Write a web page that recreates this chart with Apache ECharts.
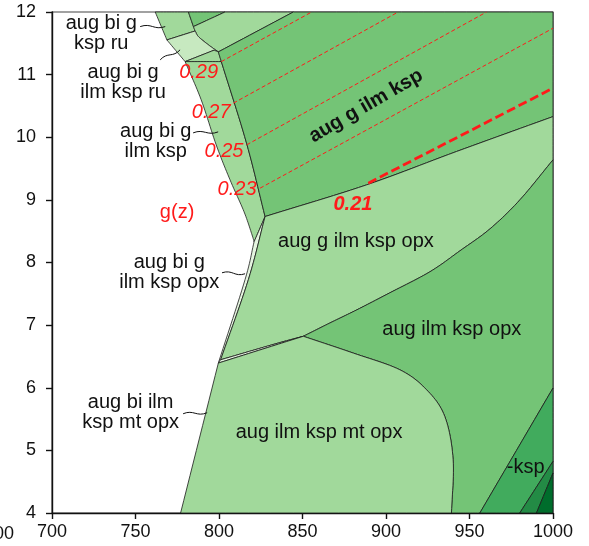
<!DOCTYPE html>
<html>
<head>
<meta charset="utf-8">
<script src="https://cdn.jsdelivr.net/npm/echarts@6/dist/echarts.min.js"></script>
<style>
html,body{margin:0;padding:0;background:#fff}
#chart{width:589px;height:546px}
</style>
</head>
<body>
<div id="chart"></div>
<script>
// Axis ranges: temperature (°C) on x, pressure (kbar) on y
const tempRange = [700, 1000];
const pressRange = [4, 12];

// Stability-field outlines as [T, P] vertices
const fieldBiGKspRu = [[761.8,12],[781.7,12],[784.7,11.767],[785.7,11.697],[768.8,11.554]];
const fieldTopTriangle = [[781.7,12],[803.6,12],[784.7,11.767]];
const fieldTopStrip = [[784.7,11.767],[803.6,12],[844.5,12],[799.6,11.363],[793.7,11.475],[787.7,11.607],[785.7,11.697]];
const fieldBiGIlmKspRu = [[768.8,11.554],[785.7,11.697],[787.7,11.607],[793.7,11.475],[799.6,11.363],[797,11.39],[779.7,11.208]];
const fieldSmallWedge = [[779.7,11.208],[797,11.39],[799.6,11.363],[801.4,11.208]];
const fieldBiGIlmKsp = [[779.7,11.208],[801.4,11.208],[816.5,9.906],[827.6,8.734],[821,8.33],[819.8,8.44],[815,8.81],[806.6,9.32],[798.3,9.88],[789.3,10.60]];
const fieldGIlmKsp = [[799.6,11.363],[844.5,12],[1000,12],[1000,10.33],[942.2,9.772],[888.4,9.240],[827.6,8.734],[816.5,9.906],[801.4,11.208]];
const fieldBiGIlmKspOpx = [[821,8.33],[827.6,8.734],[817.6,7.727],[801,6.447],[799.6,6.394],[815.6,7.727]];
const fieldGIlmKspOpx = [[827.6,8.734],[888.4,9.240],[942.2,9.772],[1000,10.33],[1000,9.639],[980.2,9.001],[962.3,8.538],[944.3,8.187],[926.3,7.852],[902.3,7.516],[882.6,7.245],[866.4,7.034],[850.5,6.822],[833.6,6.70],[801,6.447],[817.6,7.727]];
const fieldNarrowBand = [[799.6,6.394],[801,6.447],[833.6,6.70],[850.5,6.822],[833.6,6.68]];
const fieldIlmKspOpx = [[850.5,6.822],[866.4,7.034],[882.6,7.245],[902.3,7.516],[926.3,7.852],[944.3,8.187],[962.3,8.538],[980.2,9.001],[1000,9.639],[1000,5.995],[956.2,4],[939.2,4],[940.2,4.851],[935.2,5.542],[924.3,5.968],[908.3,6.287],[880.4,6.554]];
const fieldIlmKspMtOpx = [[777,4],[799.6,6.394],[833.6,6.68],[850.5,6.822],[880.4,6.554],[908.3,6.287],[924.3,5.968],[935.2,5.542],[940.2,4.851],[939.2,4]];
const fieldNoKsp = [[956.2,4],[1000,5.995],[1000,4.824],[980.1,4]];
const fieldNoKsp2 = [[980.1,4],[1000,4.824],[1000,4.638],[990.1,4]];
const fieldNoKsp3 = [[990.1,4],[1000,4.638],[1000,4]];

// Points where field boundaries meet (drawn as sharp corners)
const junctions = [[799.6,6.394],[801,6.447],[850.5,6.822],[821,8.33],[827.6,8.734],
  [779.7,11.208],[768.8,11.554],[785.7,11.697],[784.7,11.767],[799.6,11.363],
  [801.4,11.208],[797,11.39]];

// Garnet composition isopleths g(z)
const iso029 = [[801.4,11.208],[855.5,12]];
const iso027 = [[808.6,10.544],[907.3,12]];
const iso025 = [[816.6,9.879],[960.2,12]];
const iso023 = [[824.6,9.187],[1000,11.741]];
const iso021 = [[889.4,9.267],[1000,10.784]];

// Field names and isopleth values, anchored at [T, P]
const fieldLabels = [
  [729.5,11.658,'aug bi g\nksp ru'],
  [742.6,10.876,'aug bi g\nilm ksp ru'],
  [762.1,9.927,'aug bi g\nilm ksp'],
  [770.2,7.836,'aug bi g\nilm ksp opx'],
  [747.1,5.601,'aug bi ilm\nksp mt opx'],
  [882.0,8.33,'aug g ilm ksp opx'],
  [939.4,6.926,'aug ilm ksp opx'],
  [859.9,5.282,'aug ilm ksp mt opx'],
  [983.6,4.723,'-ksp']
];
const mainLabel = [888.0,10.5,'aug g ilm ksp'];
const isoLabels = [
  [787.8,11.028,'0.29'],
  [795.3,10.39,'0.27'],
  [803.0,9.767,'0.25'],
  [810.8,9.16,'0.23']
];
const isoLabelBold = [880.2,8.921,'0.21'];
const isoTitle = [774.9,8.793,'g(z)'];

// Leader squiggles from label to small field: [T0, P0, T1, P1]
const leaders = [
  [752.8,11.767,767.8,11.767],
  [764.8,11.236,776.7,11.396],
  [784.5,10.07,799.5,10.086],
  [801.8,7.836,815.6,7.82],
  [778.5,5.585,792.9,5.601]
];

const C1 = '#e5f5e0', C2 = '#c7e9c0', C3 = '#a1d99b', C4 = '#74c476', C5 = '#41ab5d', C6 = '#238b45', C7 = '#006d2c';
const fields = [
  [fieldBiGKspRu, C3], [fieldTopTriangle, C4], [fieldTopStrip, C3],
  [fieldBiGIlmKspRu, C2], [fieldSmallWedge, C3], [fieldBiGIlmKsp, C3],
  [fieldGIlmKsp, C4], [fieldBiGIlmKspOpx, C1], [fieldGIlmKspOpx, C3],
  [fieldNarrowBand, C1], [fieldIlmKspOpx, C4], [fieldIlmKspMtOpx, C3],
  [fieldNoKsp, C5], [fieldNoKsp2, C6], [fieldNoKsp3, C7]
];

function isCorner(p) {
  if (p[0] <= tempRange[0] || p[0] >= tempRange[1] || p[1] <= pressRange[0] || p[1] >= pressRange[1]) return true;
  return junctions.some(j => Math.abs(j[0] - p[0]) < 1e-6 && Math.abs(j[1] - p[1]) < 1e-6);
}

// Closed outline through the vertices: boundary curves pass smoothly
// through interior vertices (Catmull-Rom), corners stay sharp.
function outline(verts, api) {
  const n = verts.length;
  const px = verts.map(v => api.coord(v));
  const corner = verts.map(isCorner);
  const tan = px.map((p, i) => {
    if (corner[i]) return null;
    const a = px[(i - 1 + n) % n], b = px[(i + 1) % n];
    return [(b[0] - a[0]) / 2, (b[1] - a[1]) / 2];
  });
  const out = [];
  for (let i = 0; i < n; i++) {
    const p1 = px[i], p2 = px[(i + 1) % n];
    const chord = [p2[0] - p1[0], p2[1] - p1[1]];
    const t1 = tan[i] || chord;
    const t2 = tan[(i + 1) % n] || chord;
    const c1 = [p1[0] + t1[0] / 3, p1[1] + t1[1] / 3];
    const c2 = [p2[0] - t2[0] / 3, p2[1] - t2[1] / 3];
    const steps = 12;
    for (let s = 0; s < steps; s++) {
      const t = s / steps, u = 1 - t;
      out.push([
        u*u*u*p1[0] + 3*u*u*t*c1[0] + 3*u*t*t*c2[0] + t*t*t*p2[0],
        u*u*u*p1[1] + 3*u*u*t*c1[1] + 3*u*t*t*c2[1] + t*t*t*p2[1]
      ]);
    }
  }
  return out;
}

const FONT = '"Liberation Sans", Arial, sans-serif';
const RED = '#ff1a1a';
const chart = echarts.init(document.getElementById('chart'), null, {renderer: 'canvas'});

function textItem(entry, style) {
  return {
    type: 'custom',
    coordinateSystem: 'cartesian2d',
    silent: true,
    z: 5,
    data: entry.map(e => [e[0], e[1]]),
    renderItem: function (params, api) {
      const e = entry[params.dataIndex];
      const p = api.coord([e[0], e[1]]);
      return {
        type: 'text',
        x: p[0], y: p[1],
        rotation: style.rotation || 0,
        style: {
          text: e[2],
          fill: style.fill || '#111',
          font: style.font,
          align: 'center',
          verticalAlign: 'middle',
          lineHeight: 20
        }
      };
    }
  };
}

function isoLine(data, width, dash) {
  return {
    type: 'line', data: data, symbol: 'none', silent: true, z: 4,
    lineStyle: {color: RED, width: width, type: dash}
  };
}

const option = {
  animation: false,
  backgroundColor: '#fff',
  grid: {left: 52, right: 36, top: 12, bottom: 33, show: true, borderColor: '#444', borderWidth: 1.2, backgroundColor: 'transparent'},
  xAxis: {
    type: 'value', min: tempRange[0], max: tempRange[1], interval: 50,
    axisLine: {show: true, onZero: false, lineStyle: {color: '#111', width: 1.4}},
    axisTick: {show: true, length: 6, lineStyle: {color: '#111', width: 1.4}},
    axisLabel: {color: '#111', fontSize: 18, fontFamily: FONT, margin: 10, formatter: v => String(v)},
    splitLine: {show: false}
  },
  yAxis: {
    type: 'value', min: pressRange[0], max: pressRange[1], interval: 1,
    axisLine: {show: true, onZero: false, lineStyle: {color: '#111', width: 1.4}},
    axisTick: {show: true, length: 6, lineStyle: {color: '#111', width: 1.4}},
    axisLabel: {color: '#111', fontSize: 18, fontFamily: FONT, margin: 16, formatter: v => String(v)},
    splitLine: {show: false}
  },
  graphic: [{
    type: 'text', x: 14, y: 525,
    style: {text: '1000', font: '18px ' + FONT, fill: '#111', align: 'right', textAlign: 'right', verticalAlign: 'top'}
  }],
  series: [
    {
      type: 'custom', coordinateSystem: 'cartesian2d', silent: true, z: 2,
      data: fields.map(f => f[0][0]),
      renderItem: function (params, api) {
        const f = fields[params.dataIndex];
        return {
          type: 'polygon',
          shape: {points: outline(f[0], api)},
          style: {fill: f[1], stroke: '#1a1a1a', lineWidth: 0.8}
        };
      }
    },
    isoLine(iso029, 1, [4, 2.5]),
    isoLine(iso027, 1, [4, 2.5]),
    isoLine(iso025, 1, [4, 2.5]),
    isoLine(iso023, 1, [4, 2.5]),
    isoLine(iso021, 2.8, [9, 4]),
    {
      type: 'custom', coordinateSystem: 'cartesian2d', silent: true, z: 5,
      data: leaders.map(l => [l[0], l[1]]),
      renderItem: function (params, api) {
        const l = leaders[params.dataIndex];
        const a = api.coord([l[0], l[1]]);
        const b = api.coord([l[2], l[3]]);
        const dx = b[0] - a[0], dy = b[1] - a[1];
        const len = Math.sqrt(dx * dx + dy * dy) || 1;
        const nx = -dy / len * 4, ny = dx / len * 4;
        return {
          type: 'bezierCurve',
          shape: {
            x1: a[0], y1: a[1], x2: b[0], y2: b[1],
            cpx1: a[0] + dx * 0.45 - nx, cpy1: a[1] + dy * 0.45 - ny,
            cpx2: a[0] + dx * 0.55 + nx, cpy2: a[1] + dy * 0.55 + ny
          },
          style: {stroke: '#111', lineWidth: 1, fill: null}
        };
      }
    },
    textItem(fieldLabels, {font: '20px ' + FONT}),
    textItem([mainLabel], {font: 'bold 20px ' + FONT, rotation: 30 * Math.PI / 180}),
    textItem(isoLabels, {font: 'italic 20px ' + FONT, fill: RED}),
    textItem([isoLabelBold], {font: 'italic bold 20px ' + FONT, fill: RED}),
    textItem([isoTitle], {font: '20px ' + FONT, fill: RED})
  ]
};
chart.setOption(option);
</script>
</body>
</html>
